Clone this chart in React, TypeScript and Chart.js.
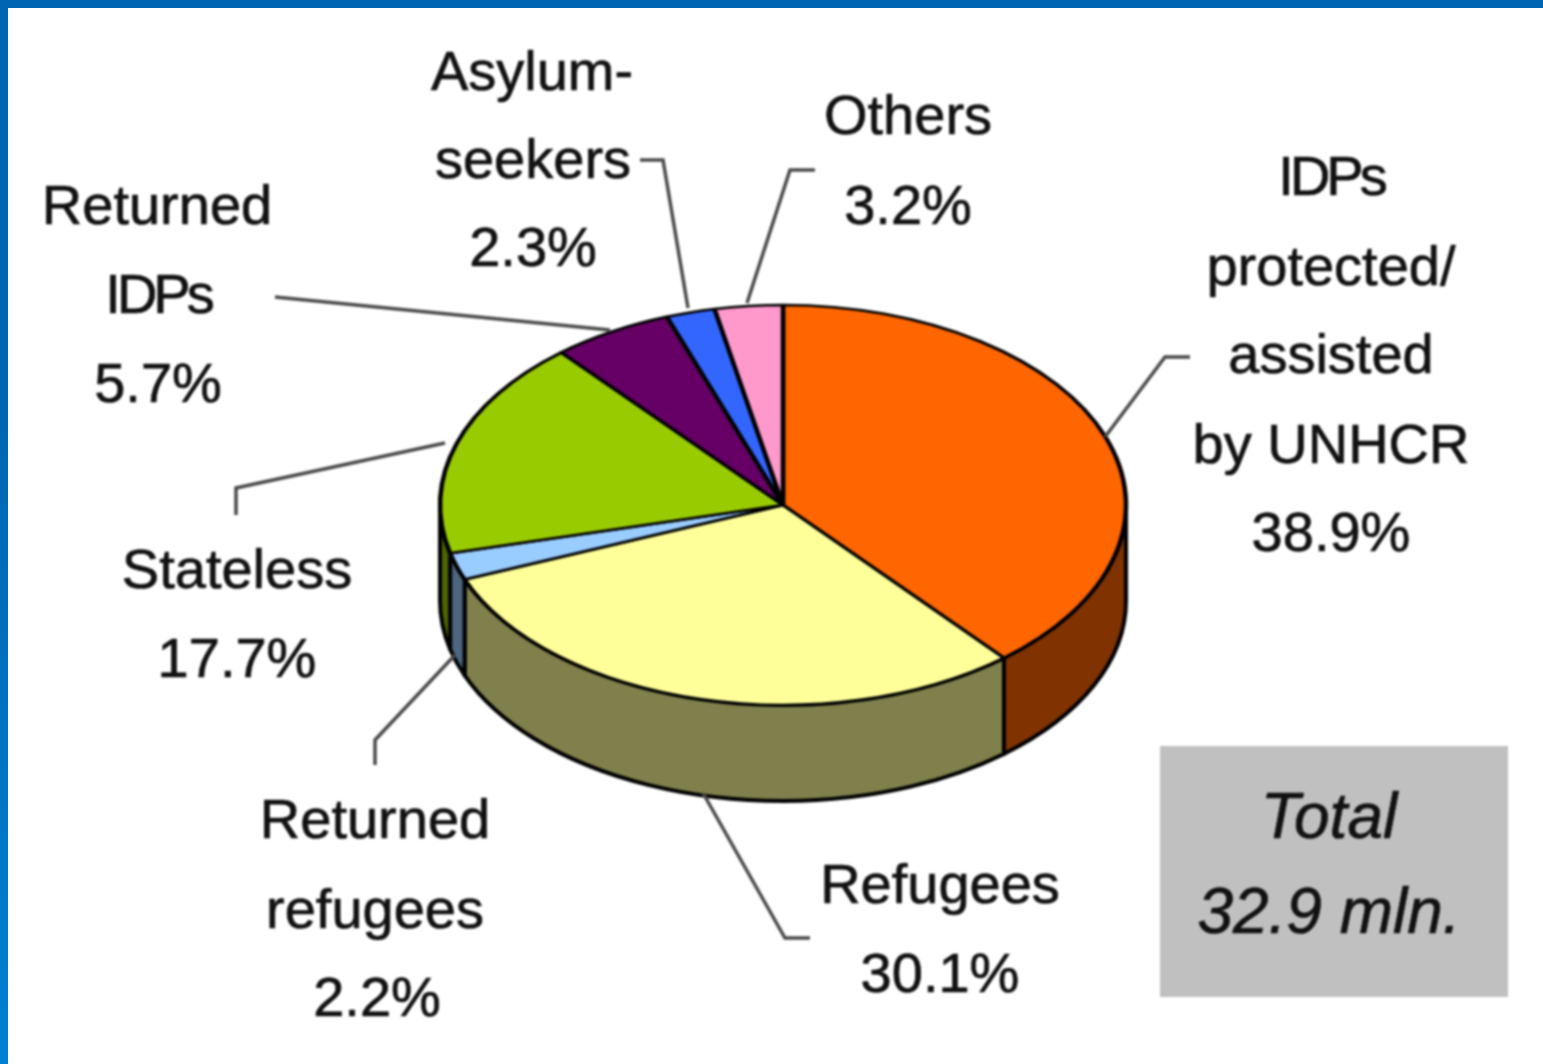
import React, { useEffect, useRef } from "react";
import { Chart, registerables } from "chart.js";

Chart.register(...registerables);

const categories = [
  "IDPs protected/assisted by UNHCR",
  "Refugees",
  "Returned refugees",
  "Stateless",
  "Returned IDPs",
  "Asylum-seekers",
  "Others",
];
const shares = [38.9, 30.1, 2.2, 17.7, 5.7, 2.3, 3.2];
const faceColors = ["#FF6600", "#FFFF99", "#99CCFF", "#99CC00", "#660066", "#3366FF", "#FF99CC"];
const wallColors = ["#803300", "#80804D", "#4D6680", "#4D6600", "#330033", "#1A3380", "#804D66"];

const labelLines: [string, number, number][] = [
  ["Asylum-", 532, 90],
  ["seekers", 533, 178],
  ["2.3%", 533, 266],
  ["Others", 908, 134],
  ["3.2%", 908, 224],
  ["IDPs", 1331, 195],
  ["protected/", 1331, 285],
  ["assisted", 1331, 373],
  ["by UNHCR", 1331, 463],
  ["38.9%", 1331, 551],
  ["Returned", 157, 224],
  ["IDPs", 158, 313],
  ["5.7%", 158, 402],
  ["Stateless", 237, 588],
  ["17.7%", 237, 677],
  ["Returned", 375, 838],
  ["refugees", 375, 928],
  ["2.2%", 377, 1016],
  ["Refugees", 940, 903],
  ["30.1%", 940, 992],
];
const totalLines: [string, number, number][] = [
  ["Total", 1329, 838],
  ["32.9 mln.", 1329, 933],
];
const leaders: [number, number][][] = [
  [[640, 160], [663, 160], [688, 308]],
  [[815, 170], [790, 170], [747, 303]],
  [[275, 297], [610, 330]],
  [[236, 515], [236, 488], [445, 443]],
  [[375, 765], [375, 740], [455, 655]],
  [[703, 793], [785, 938], [810, 938]],
  [[1190, 357], [1165, 357], [1105, 437]],
];

const CX = 783, CY = 505, RX = 343, RY = 200, DEPTH = 96;
const W = 1543, H = 1064;
const SQUASH = RY / RX;

const pie3d = {
  id: "pie3d",
  beforeDatasetsDraw(chart: any) {
    const { ctx } = chart;
    const arcs = chart.getDatasetMeta(0).data;
    ctx.save();
    ctx.lineWidth = 4;
    ctx.strokeStyle = "#000";
    ctx.lineJoin = "round";
    arcs.forEach((arc: any, i: number) => {
      const s = Math.max(arc.startAngle, 0);
      const e = Math.min(arc.endAngle, Math.PI);
      if (s >= e) return;
      ctx.beginPath();
      ctx.ellipse(CX, CY, RX, RY, 0, s, e);
      ctx.ellipse(CX, CY + DEPTH, RX, RY, 0, e, s, true);
      ctx.closePath();
      ctx.fillStyle = wallColors[i];
      ctx.fill();
      ctx.stroke();
    });
    ctx.restore();
    ctx.save();
    ctx.translate(CX, CY);
    ctx.scale(1, SQUASH);
    ctx.translate(-CX, -CY);
  },
  afterDatasetsDraw(chart: any) {
    const { ctx } = chart;
    ctx.restore();
    ctx.save();
    ctx.strokeStyle = "#4a4a4a";
    ctx.lineWidth = 3.5;
    leaders.forEach((pts) => {
      ctx.beginPath();
      pts.forEach(([x, y], i) => (i ? ctx.lineTo(x, y) : ctx.moveTo(x, y)));
      ctx.stroke();
    });
    ctx.fillStyle = "#C0C0C0";
    ctx.fillRect(1160, 746, 348, 251);
    ctx.fillStyle = "#111";
    ctx.strokeStyle = "#111";
    ctx.lineWidth = 0.7;
    ctx.textAlign = "center";
    ctx.textBaseline = "alphabetic";
    ctx.font = '56px "Liberation Sans"';
    labelLines.forEach(([t, x, y]) => {
      (ctx as any).letterSpacing = t === "IDPs" ? "-4px" : "0px";
      ctx.fillText(t, x, y);
      ctx.strokeText(t, x, y);
    });
    (ctx as any).letterSpacing = "0px";
    ctx.font = 'italic 64px "Liberation Sans"';
    totalLines.forEach(([t, x, y]) => {
      ctx.fillText(t, x, y);
      ctx.strokeText(t, x, y);
    });
    ctx.restore();
  },
};

export default function App() {
  const ref = useRef<HTMLCanvasElement>(null);
  useEffect(() => {
    const bw = 4.5;
    const pad = RX + bw / 2;
    const chart = new Chart(ref.current!, {
      type: "doughnut",
      data: {
        labels: categories,
        datasets: [{
          data: shares,
          backgroundColor: faceColors,
          borderColor: "#000",
          borderWidth: bw,
          borderAlign: "center",
        }],
      },
      options: {
        responsive: false,
        animation: false,
        cutout: 0,
        events: [],
        layout: {
          padding: {
            left: CX - pad,
            right: W - CX - pad,
            top: CY - pad,
            bottom: H - CY - pad,
          },
        },
        plugins: { legend: { display: false }, tooltip: { enabled: false }, title: { display: false } },
      },
      plugins: [pie3d],
    } as any);
    return () => chart.destroy();
  }, []);
  return (
    <div style={{ position: "fixed", left: 0, top: 0, width: W, height: H, background: "#fff", overflow: "hidden" }}>
      <canvas ref={ref} width={W} height={H} style={{ display: "block", width: W, height: H, filter: "blur(0.8px)" }} />
      <div style={{ position: "absolute", left: 0, top: 0, width: W, height: 8, background: "#0066B3" }} />
      <div style={{ position: "absolute", left: 0, top: 0, width: 8, height: H, background: "linear-gradient(#0066B3 0%, #0066B3 40%, #0080D4 100%)" }} />
    </div>
  );
}
